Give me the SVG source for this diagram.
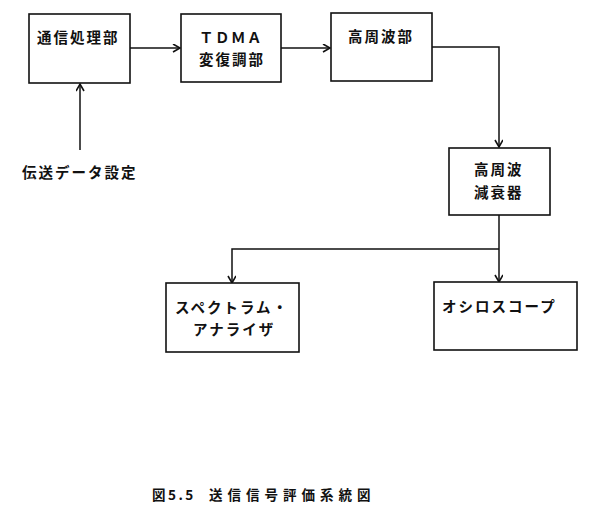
<svg xmlns="http://www.w3.org/2000/svg" width="590" height="516" viewBox="0 0 590 516">
<defs>
<style>
.box{fill:#fff;stroke:#111;stroke-width:1.6}
.t{font-family:"Noto Sans CJK JP","Noto Sans",sans-serif;font-weight:bold;font-size:14.5px;letter-spacing:2px;fill:#111}
.c{fill:none;stroke:#111;stroke-width:1.5}
</style>
<marker id="ah" markerWidth="10" markerHeight="10" refX="8" refY="4" orient="auto" markerUnits="userSpaceOnUse">
<path d="M1,0 L8,4 L1,8" fill="none" stroke="#111" stroke-width="1.6"/>
</marker>
</defs>
<rect width="590" height="516" fill="#fff"/>
<g id="connectors">
<path class="c" d="M130,48 H180" marker-end="url(#ah)"/>
<path class="c" d="M281,48 H330" marker-end="url(#ah)"/>
<path class="c" d="M432,47 H499 V147" marker-end="url(#ah)"/>
<path class="c" d="M80,150 V84" marker-end="url(#ah)"/>
<path class="c" d="M499,215 V282" marker-end="url(#ah)"/>
<path class="c" d="M499,249 H232 V283" marker-end="url(#ah)"/>
</g>
<g id="n1"><rect class="box" x="29" y="14" width="101" height="69"/><text class="t" x="37" y="43">通信処理部</text></g>
<g id="n2"><rect class="box" x="181" y="14" width="100" height="68"/><text class="t" x="199" y="43" style="letter-spacing:1.5px">ＴＤＭＡ</text><text class="t" x="199" y="65">変復調部</text></g>
<g id="n3"><rect class="box" x="331" y="13" width="101" height="68"/><text class="t" x="348" y="42">高周波部</text></g>
<g id="n4"><rect class="box" x="449" y="148" width="101" height="67"/><text class="t" x="474" y="175">高周波</text><text class="t" x="474" y="198">減衰器</text></g>
<g id="n5"><rect class="box" x="166" y="283" width="133" height="69"/><text class="t" x="175" y="313">スペクトラム・</text><text class="t" x="193" y="335">アナライザ</text></g>
<g id="n6"><rect class="box" x="434" y="282" width="143" height="68"/><text class="t" x="442" y="312">オシロスコープ</text></g>
<g id="input"><text class="t" x="22" y="178">伝送データ設定</text></g>
<text class="t" x="152" y="500" style="font-size:13.5px;letter-spacing:2.5px">図5.5</text>
<text class="t" x="209" y="500" style="font-size:13.5px;letter-spacing:5px">送信信号評価系統図</text>
</svg>
